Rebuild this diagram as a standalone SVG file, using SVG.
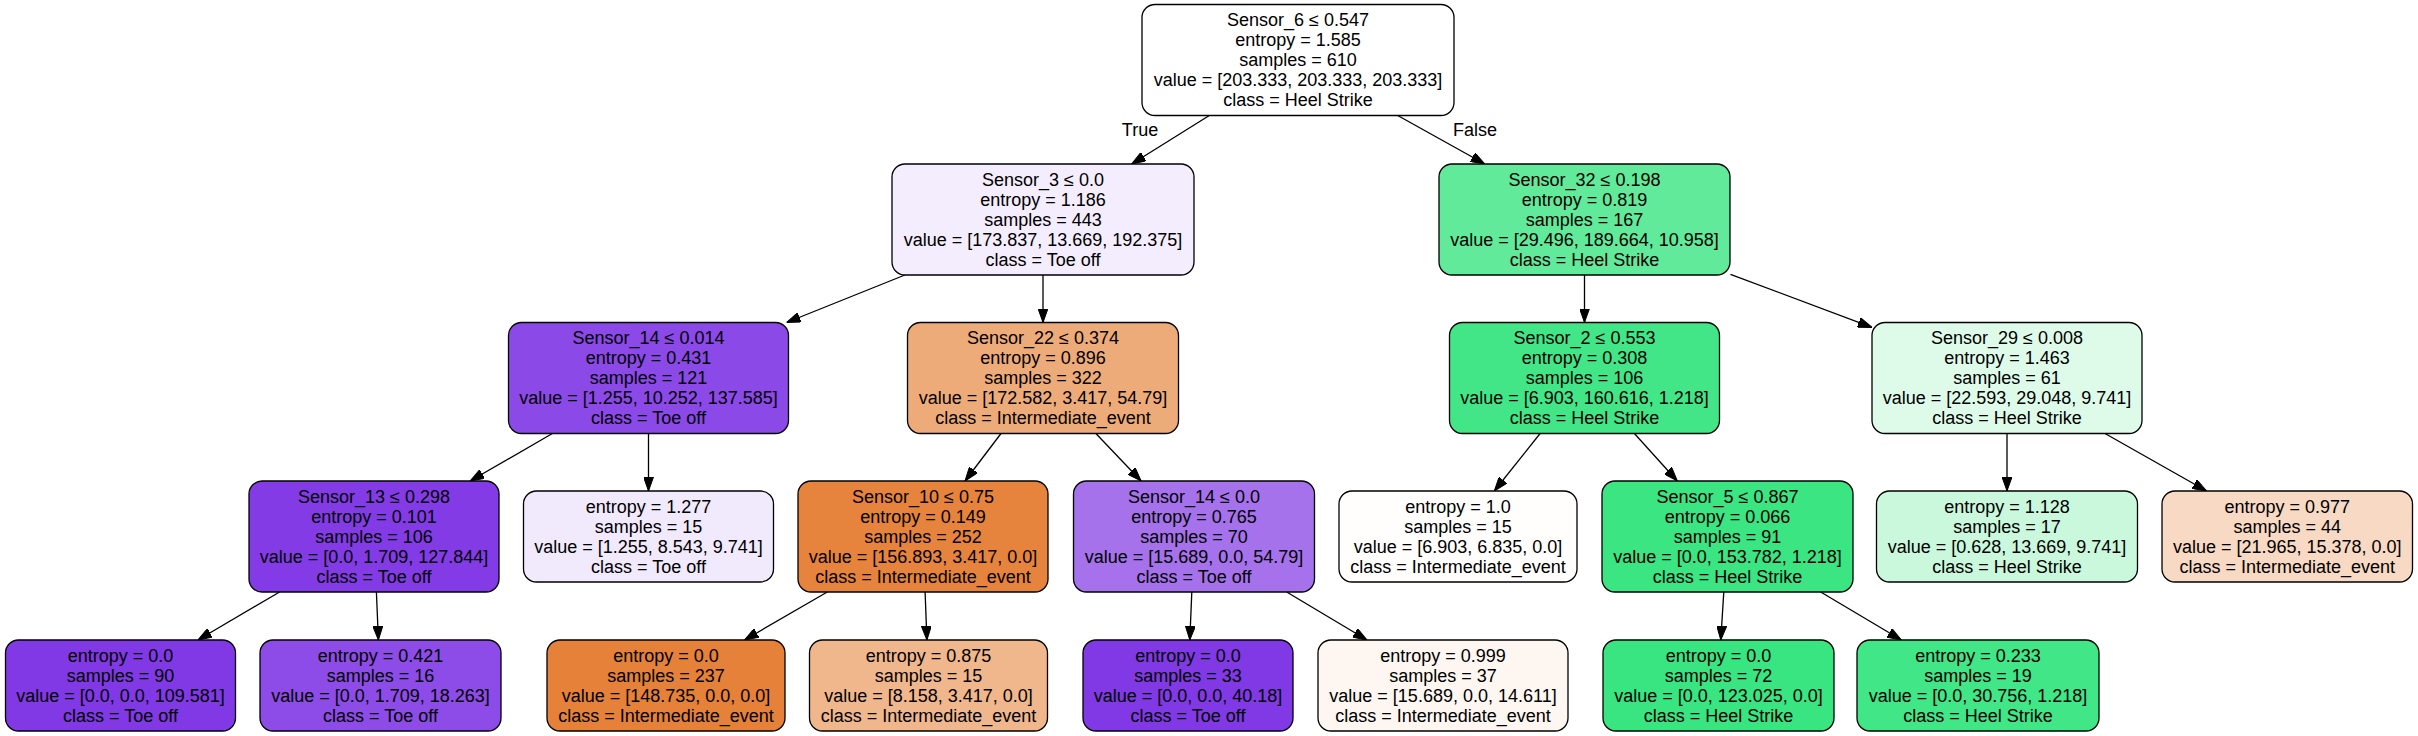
<svg xmlns="http://www.w3.org/2000/svg" width="2418" height="736" viewBox="0 0 2418 736">
<defs>
<style>
.n rect{stroke:#000;stroke-width:1.3;}
.n text{font-family:"Liberation Sans",Arial,Helvetica,sans-serif;font-size:18px;fill:#000;text-anchor:middle;}
.e line{stroke:#000;stroke-width:1.3;fill:none;marker-end:url(#ah);}
.lbl{font-family:"Liberation Sans",Arial,Helvetica,sans-serif;font-size:18px;fill:#000;text-anchor:middle;}
</style>
<marker id="ah" markerUnits="userSpaceOnUse" markerWidth="14" markerHeight="10" viewBox="0 0 14 10" refX="14" refY="5" orient="auto">
<path d="M0,0 L14,5 L0,10 z" fill="#000" stroke="#000" stroke-width="1"/>
</marker>
</defs>
<rect width="2418" height="736" fill="#fff"/>
<g id="edges" class="e">
<line x1="1209.3" y1="115.5" x2="1131.7" y2="164"/>
<line x1="1397.7" y1="115.5" x2="1484.8" y2="164"/>
<line x1="904.9" y1="275" x2="786.6" y2="322.5"/>
<line x1="1043" y1="275" x2="1043" y2="322.5"/>
<line x1="552.4" y1="433.5" x2="470.1" y2="481"/>
<line x1="648.5" y1="433.5" x2="648.5" y2="491"/>
<line x1="279.6" y1="592" x2="197.9" y2="640"/>
<line x1="376.4" y1="592" x2="378.4" y2="640"/>
<line x1="1001" y1="433.5" x2="965" y2="481"/>
<line x1="1095.9" y1="433.5" x2="1141.1" y2="481"/>
<line x1="827.3" y1="592" x2="744.5" y2="640"/>
<line x1="925.1" y1="592" x2="926.9" y2="640"/>
<line x1="1191.8" y1="592" x2="1189.8" y2="640"/>
<line x1="1286.7" y1="592" x2="1367" y2="640"/>
<line x1="1584.5" y1="275" x2="1584.5" y2="322.5"/>
<line x1="1730.5" y1="274.3" x2="1872" y2="327.4"/>
<line x1="1540.1" y1="433.5" x2="1494.3" y2="491"/>
<line x1="1634.4" y1="433.5" x2="1677.3" y2="481"/>
<line x1="1723.8" y1="592" x2="1720.8" y2="640"/>
<line x1="1820.7" y1="592" x2="1901.4" y2="640"/>
<line x1="2007" y1="433.5" x2="2007" y2="491"/>
<line x1="2105" y1="433.5" x2="2206.6" y2="491"/>
</g>
<g id="edge-labels">
<text class="lbl" x="1140" y="136">True</text>
<text class="lbl" x="1475" y="136">False</text>
</g>
<g id="node0" class="n"><rect x="1142" y="4.5" width="312" height="111" rx="13" fill="#ffffff"/>
<text><tspan x="1298" y="26">Sensor_6 ≤ 0.547</tspan><tspan x="1298" y="46">entropy = 1.585</tspan><tspan x="1298" y="66">samples = 610</tspan><tspan x="1298" y="86">value = [203.333, 203.333, 203.333]</tspan><tspan x="1298" y="106">class = Heel Strike</tspan></text></g>
<g id="node1" class="n"><rect x="892" y="164" width="302" height="111" rx="13" fill="#f4edfd"/>
<text><tspan x="1043" y="185.5">Sensor_3 ≤ 0.0</tspan><tspan x="1043" y="205.5">entropy = 1.186</tspan><tspan x="1043" y="225.5">samples = 443</tspan><tspan x="1043" y="245.5">value = [173.837, 13.669, 192.375]</tspan><tspan x="1043" y="265.5">class = Toe off</tspan></text></g>
<g id="node2" class="n"><rect x="508.5" y="322.5" width="280" height="111" rx="13" fill="#8b49e7"/>
<text><tspan x="648.5" y="344">Sensor_14 ≤ 0.014</tspan><tspan x="648.5" y="364">entropy = 0.431</tspan><tspan x="648.5" y="384">samples = 121</tspan><tspan x="648.5" y="404">value = [1.255, 10.252, 137.585]</tspan><tspan x="648.5" y="424">class = Toe off</tspan></text></g>
<g id="node3" class="n"><rect x="249" y="481" width="250" height="111" rx="13" fill="#833ce5"/>
<text><tspan x="374" y="502.5">Sensor_13 ≤ 0.298</tspan><tspan x="374" y="522.5">entropy = 0.101</tspan><tspan x="374" y="542.5">samples = 106</tspan><tspan x="374" y="562.5">value = [0.0, 1.709, 127.844]</tspan><tspan x="374" y="582.5">class = Toe off</tspan></text></g>
<g id="node4" class="n"><rect x="5.5" y="640" width="230" height="91" rx="13" fill="#8139e5"/>
<text><tspan x="120.5" y="661.5">entropy = 0.0</tspan><tspan x="120.5" y="681.5">samples = 90</tspan><tspan x="120.5" y="701.5">value = [0.0, 0.0, 109.581]</tspan><tspan x="120.5" y="721.5">class = Toe off</tspan></text></g>
<g id="node5" class="n"><rect x="260" y="640" width="241" height="91" rx="13" fill="#8d4ce7"/>
<text><tspan x="380.5" y="661.5">entropy = 0.421</tspan><tspan x="380.5" y="681.5">samples = 16</tspan><tspan x="380.5" y="701.5">value = [0.0, 1.709, 18.263]</tspan><tspan x="380.5" y="721.5">class = Toe off</tspan></text></g>
<g id="node6" class="n"><rect x="523.5" y="491" width="250" height="91" rx="13" fill="#f1e9fc"/>
<text><tspan x="648.5" y="512.5">entropy = 1.277</tspan><tspan x="648.5" y="532.5">samples = 15</tspan><tspan x="648.5" y="552.5">value = [1.255, 8.543, 9.741]</tspan><tspan x="648.5" y="572.5">class = Toe off</tspan></text></g>
<g id="node7" class="n"><rect x="907.5" y="322.5" width="271" height="111" rx="13" fill="#eeab7a"/>
<text><tspan x="1043" y="344">Sensor_22 ≤ 0.374</tspan><tspan x="1043" y="364">entropy = 0.896</tspan><tspan x="1043" y="384">samples = 322</tspan><tspan x="1043" y="404">value = [172.582, 3.417, 54.79]</tspan><tspan x="1043" y="424">class = Intermediate_event</tspan></text></g>
<g id="node8" class="n"><rect x="798" y="481" width="250" height="111" rx="13" fill="#e6843d"/>
<text><tspan x="923" y="502.5">Sensor_10 ≤ 0.75</tspan><tspan x="923" y="522.5">entropy = 0.149</tspan><tspan x="923" y="542.5">samples = 252</tspan><tspan x="923" y="562.5">value = [156.893, 3.417, 0.0]</tspan><tspan x="923" y="582.5">class = Intermediate_event</tspan></text></g>
<g id="node9" class="n"><rect x="547" y="640" width="238" height="91" rx="13" fill="#e58139"/>
<text><tspan x="666" y="661.5">entropy = 0.0</tspan><tspan x="666" y="681.5">samples = 237</tspan><tspan x="666" y="701.5">value = [148.735, 0.0, 0.0]</tspan><tspan x="666" y="721.5">class = Intermediate_event</tspan></text></g>
<g id="node10" class="n"><rect x="809.5" y="640" width="238" height="91" rx="13" fill="#f0b68c"/>
<text><tspan x="928.5" y="661.5">entropy = 0.875</tspan><tspan x="928.5" y="681.5">samples = 15</tspan><tspan x="928.5" y="701.5">value = [8.158, 3.417, 0.0]</tspan><tspan x="928.5" y="721.5">class = Intermediate_event</tspan></text></g>
<g id="node11" class="n"><rect x="1073.5" y="481" width="241" height="111" rx="13" fill="#a572ec"/>
<text><tspan x="1194" y="502.5">Sensor_14 ≤ 0.0</tspan><tspan x="1194" y="522.5">entropy = 0.765</tspan><tspan x="1194" y="542.5">samples = 70</tspan><tspan x="1194" y="562.5">value = [15.689, 0.0, 54.79]</tspan><tspan x="1194" y="582.5">class = Toe off</tspan></text></g>
<g id="node12" class="n"><rect x="1083" y="640" width="210" height="91" rx="13" fill="#8139e5"/>
<text><tspan x="1188" y="661.5">entropy = 0.0</tspan><tspan x="1188" y="681.5">samples = 33</tspan><tspan x="1188" y="701.5">value = [0.0, 0.0, 40.18]</tspan><tspan x="1188" y="721.5">class = Toe off</tspan></text></g>
<g id="node13" class="n"><rect x="1318" y="640" width="250" height="91" rx="13" fill="#fdf6f1"/>
<text><tspan x="1443" y="661.5">entropy = 0.999</tspan><tspan x="1443" y="681.5">samples = 37</tspan><tspan x="1443" y="701.5">value = [15.689, 0.0, 14.611]</tspan><tspan x="1443" y="721.5">class = Intermediate_event</tspan></text></g>
<g id="node14" class="n"><rect x="1439" y="164" width="291" height="111" rx="13" fill="#61ea9a"/>
<text><tspan x="1584.5" y="185.5">Sensor_32 ≤ 0.198</tspan><tspan x="1584.5" y="205.5">entropy = 0.819</tspan><tspan x="1584.5" y="225.5">samples = 167</tspan><tspan x="1584.5" y="245.5">value = [29.496, 189.664, 10.958]</tspan><tspan x="1584.5" y="265.5">class = Heel Strike</tspan></text></g>
<g id="node15" class="n"><rect x="1449.5" y="322.5" width="270" height="111" rx="13" fill="#43e687"/>
<text><tspan x="1584.5" y="344">Sensor_2 ≤ 0.553</tspan><tspan x="1584.5" y="364">entropy = 0.308</tspan><tspan x="1584.5" y="384">samples = 106</tspan><tspan x="1584.5" y="404">value = [6.903, 160.616, 1.218]</tspan><tspan x="1584.5" y="424">class = Heel Strike</tspan></text></g>
<g id="node16" class="n"><rect x="1339" y="491" width="238" height="91" rx="13" fill="#fffefd"/>
<text><tspan x="1458" y="512.5">entropy = 1.0</tspan><tspan x="1458" y="532.5">samples = 15</tspan><tspan x="1458" y="552.5">value = [6.903, 6.835, 0.0]</tspan><tspan x="1458" y="572.5">class = Intermediate_event</tspan></text></g>
<g id="node17" class="n"><rect x="1602" y="481" width="251" height="111" rx="13" fill="#3be582"/>
<text><tspan x="1727.5" y="502.5">Sensor_5 ≤ 0.867</tspan><tspan x="1727.5" y="522.5">entropy = 0.066</tspan><tspan x="1727.5" y="542.5">samples = 91</tspan><tspan x="1727.5" y="562.5">value = [0.0, 153.782, 1.218]</tspan><tspan x="1727.5" y="582.5">class = Heel Strike</tspan></text></g>
<g id="node18" class="n"><rect x="1603" y="640" width="231" height="91" rx="13" fill="#39e581"/>
<text><tspan x="1718.5" y="661.5">entropy = 0.0</tspan><tspan x="1718.5" y="681.5">samples = 72</tspan><tspan x="1718.5" y="701.5">value = [0.0, 123.025, 0.0]</tspan><tspan x="1718.5" y="721.5">class = Heel Strike</tspan></text></g>
<g id="node19" class="n"><rect x="1857" y="640" width="242" height="91" rx="13" fill="#41e686"/>
<text><tspan x="1978" y="661.5">entropy = 0.233</tspan><tspan x="1978" y="681.5">samples = 19</tspan><tspan x="1978" y="701.5">value = [0.0, 30.756, 1.218]</tspan><tspan x="1978" y="721.5">class = Heel Strike</tspan></text></g>
<g id="node20" class="n"><rect x="1872" y="322.5" width="270" height="111" rx="13" fill="#defbea"/>
<text><tspan x="2007" y="344">Sensor_29 ≤ 0.008</tspan><tspan x="2007" y="364">entropy = 1.463</tspan><tspan x="2007" y="384">samples = 61</tspan><tspan x="2007" y="404">value = [22.593, 29.048, 9.741]</tspan><tspan x="2007" y="424">class = Heel Strike</tspan></text></g>
<g id="node21" class="n"><rect x="1876.5" y="491" width="261" height="91" rx="13" fill="#c9f8dc"/>
<text><tspan x="2007" y="512.5">entropy = 1.128</tspan><tspan x="2007" y="532.5">samples = 17</tspan><tspan x="2007" y="552.5">value = [0.628, 13.669, 9.741]</tspan><tspan x="2007" y="572.5">class = Heel Strike</tspan></text></g>
<g id="node22" class="n"><rect x="2162" y="491" width="250.5" height="91" rx="13" fill="#f7d9c4"/>
<text><tspan x="2287.25" y="512.5">entropy = 0.977</tspan><tspan x="2287.25" y="532.5">samples = 44</tspan><tspan x="2287.25" y="552.5">value = [21.965, 15.378, 0.0]</tspan><tspan x="2287.25" y="572.5">class = Intermediate_event</tspan></text></g>
</svg>
